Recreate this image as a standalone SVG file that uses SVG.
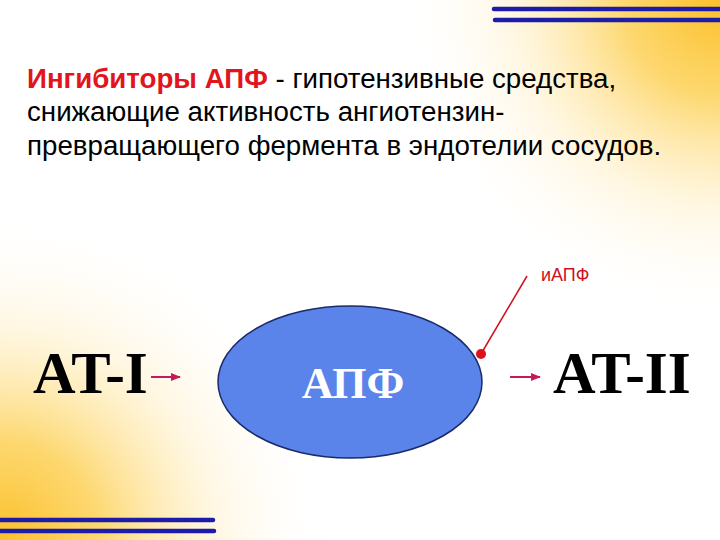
<svg xmlns="http://www.w3.org/2000/svg" width="720" height="540" viewBox="0 0 720 540">
<defs>
<radialGradient id="gTR" cx="720" cy="0" r="320" gradientUnits="userSpaceOnUse">
<stop offset="0" stop-color="#fcc02a"/>
<stop offset="0.3" stop-color="#fdd870"/>
<stop offset="0.65" stop-color="#fff2d0" stop-opacity="0.6"/>
<stop offset="1" stop-color="#ffffff" stop-opacity="0"/>
</radialGradient>
<radialGradient id="gBL" cx="0" cy="540" r="330" gradientUnits="userSpaceOnUse">
<stop offset="0" stop-color="#fcc02a"/>
<stop offset="0.3" stop-color="#fdd870"/>
<stop offset="0.65" stop-color="#fff2d0" stop-opacity="0.6"/>
<stop offset="1" stop-color="#ffffff" stop-opacity="0"/>
</radialGradient>
<marker id="ah" viewBox="0 0 10 10" refX="9" refY="5" markerWidth="5" markerHeight="5" orient="auto">
<path d="M0,1 L10,5 L0,9 z" fill="#c8185a"/>
</marker>
<style>
.bar{stroke:#1c1ca8;stroke-width:4.5;stroke-linecap:round}
.txt{font-family:"Liberation Sans",Arial,sans-serif;font-size:27.7px;fill:#000}
.big{font-family:"Liberation Serif","Times New Roman",serif;font-weight:bold;font-size:59px;fill:#000}
.arr{stroke:#c8185a;stroke-width:2;fill:none}
</style>
</defs>
<rect width="720" height="540" fill="#ffffff"/>
<rect width="720" height="540" fill="url(#gTR)"/>
<rect width="720" height="540" fill="url(#gBL)"/>
<g id="bars">
<line class="bar" x1="494" y1="9" x2="722" y2="9"/>
<line class="bar" x1="495" y1="20" x2="722" y2="20"/>
<line class="bar" x1="-2" y1="520" x2="213" y2="520"/>
<line class="bar" x1="-2" y1="531" x2="214" y2="531"/>
</g>
<g id="definition">
<text class="txt" x="27" y="88"><tspan font-weight="bold" fill="#e2141c">Ингибиторы АПФ</tspan> - гипотензивные средства,</text>
<text class="txt" x="27" y="121">снижающие активность ангиотензин-</text>
<text class="txt" x="27" y="155">превращающего фермента в эндотелии сосудов.</text>
</g>
<g id="node-at1">
<text class="big" x="33" y="393">AT-I</text>
</g>
<g id="node-apf">
<ellipse cx="350" cy="382" rx="132" ry="76" fill="#5b84ea" stroke="#1a2a6a" stroke-width="1.5"/>
<text x="353" y="398" text-anchor="middle" font-family="'Liberation Serif','Times New Roman',serif" font-weight="bold" font-size="44" fill="#ffffff">АПФ</text>
</g>
<g id="node-at2">
<text class="big" x="553" y="393">AT-II</text>
</g>
<g id="node-iapf">
<text x="541" y="281" font-family="'Liberation Sans',Arial,sans-serif" font-size="18" fill="#d01020">иАПФ</text>
</g>
<g id="connectors">
<line class="arr" x1="151" y1="377" x2="180" y2="377" marker-end="url(#ah)"/>
<line class="arr" x1="510" y1="377" x2="540" y2="377" marker-end="url(#ah)"/>
<line x1="527" y1="276" x2="481" y2="354" stroke="#d01020" stroke-width="1.5"/>
<circle cx="481" cy="354" r="5" fill="#e0101a"/>
</g>
</svg>
